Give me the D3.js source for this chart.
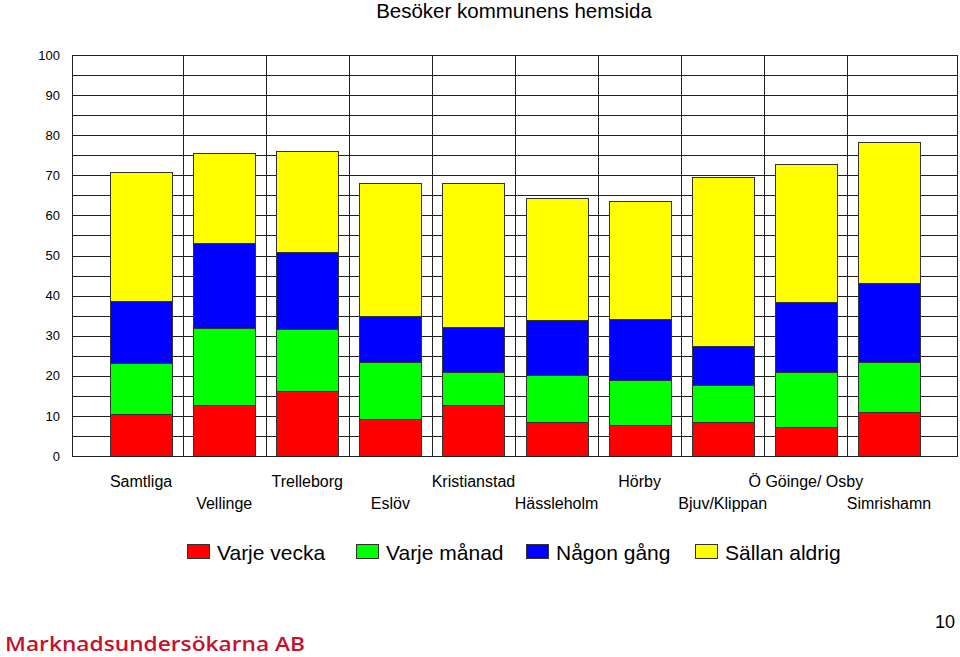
<!DOCTYPE html>
<html>
<head>
<meta charset="utf-8">
<script src="https://cdn.jsdelivr.net/npm/d3@7"></script>
<style>
  html, body { margin: 0; padding: 0; background: #fff; }
  svg { display: block; }
</style>
</head>
<body>
<svg id="chart" width="960" height="657"></svg>
<script>
// ---- data ----
const categories = ["Samtliga", "Vellinge", "Trelleborg", "Eslöv", "Kristianstad",
  "Hässleholm", "Hörby", "Bjuv/Klippan", "Ö Göinge/ Osby", "Simrishamn"];
const seriesNames = ["Varje vecka", "Varje månad", "Någon gång", "Sällan aldrig"];
const varjeVecka   = [10.5, 12.6, 16.1,  9.2, 12.7,  8.4,  7.8,  8.4,  7.3, 11.0];
const varjeManad   = [12.6, 19.4, 15.6, 14.2,  8.3, 11.7, 11.1,  9.3, 13.7, 12.5];
const nagonGang    = [15.6, 21.0, 19.1, 11.5, 11.1, 13.8, 15.3,  9.7, 17.3, 19.6];
const sallanAldrig = [32.1, 22.6, 25.2, 33.3, 36.1, 30.5, 29.4, 42.1, 34.5, 35.3];
const yTicks = [0, 10, 20, 30, 40, 50, 60, 70, 80, 90, 100];
const yGrid = d3.range(5, 100, 5);
const colors = ["#ff0000", "#00ff00", "#0000ff", "#ffff00"];
const title = "Besöker kommunens hemsida";

// ---- layout ----
const svg = d3.select("#chart");
const frame = { left: 72, right: 957, top: 55, bottom: 456 };
const font = "'Liberation Sans', Arial, sans-serif";

const y = d3.scaleLinear().domain([0, 100]).range([frame.bottom, frame.top]);
const x = d3.scaleBand().domain(categories).range([99.5, 930.5])
  .paddingInner(0.254).paddingOuter(0.127);

// title
svg.append("text").attr("x", 514).attr("y", 18)
  .attr("text-anchor", "middle").attr("font-family", font).attr("font-size", 20.5)
  .attr("fill", "#000").text(title);

// horizontal grid
svg.append("g").selectAll("line").data(yGrid).join("line")
  .attr("x1", frame.left).attr("x2", frame.right)
  .attr("y1", d => Math.round(y(d)) + 0.5).attr("y2", d => Math.round(y(d)) + 0.5)
  .attr("stroke", "#222").attr("stroke-width", 1);

// vertical category separators
const seps = categories.slice(0, -1).map(c => x(c) + x.bandwidth() + x.step() * x.paddingInner() / 2);
svg.append("g").selectAll("line").data(seps).join("line")
  .attr("x1", d => Math.round(d) + 0.5).attr("x2", d => Math.round(d) + 0.5)
  .attr("y1", frame.top).attr("y2", frame.bottom)
  .attr("stroke", "#222").attr("stroke-width", 1);

// stacked bars
const table = categories.map((c, i) => ({
  cat: c,
  [seriesNames[0]]: varjeVecka[i],
  [seriesNames[1]]: varjeManad[i],
  [seriesNames[2]]: nagonGang[i],
  [seriesNames[3]]: sallanAldrig[i]
}));
const stacked = d3.stack().keys(seriesNames)(table);
svg.append("g").selectAll("g").data(stacked).join("g")
  .attr("fill", (d, i) => colors[i])
  .selectAll("rect").data(d => d).join("rect")
  .attr("x", d => Math.round(x(d.data.cat)) + 0.5)
  .attr("width", Math.round(x.bandwidth()))
  .attr("y", d => Math.round(y(d[1])) + 0.5)
  .attr("height", d => Math.round(y(d[0])) - Math.round(y(d[1])))
  .attr("stroke", "#333").attr("stroke-width", 1);

// frame
svg.append("rect").attr("x", frame.left + 0.5).attr("y", frame.top + 0.5)
  .attr("width", frame.right - frame.left).attr("height", frame.bottom - frame.top)
  .attr("fill", "none").attr("stroke", "#222").attr("stroke-width", 1);

// y axis labels
const yAxis = d3.axisLeft(y).tickValues(yTicks).tickSize(0).tickPadding(12);
const yg = svg.append("g").attr("transform", `translate(${frame.left},0)`).call(yAxis);
yg.select(".domain").remove();
yg.selectAll("text").attr("font-family", font).attr("font-size", 13).attr("fill", "#000");

// x axis labels (staggered)
const xAxis = d3.axisBottom(x).tickSize(0).tickPadding(0);
const xg = svg.append("g").attr("transform", `translate(0,${frame.bottom})`).call(xAxis);
xg.select(".domain").remove();
xg.selectAll("text")
  .attr("font-family", font).attr("font-size", 16).attr("fill", "#000")
  .attr("dy", null)
  .attr("y", (d, i) => i % 2 === 0 ? 31 : 53);

// legend
const legendX = [187, 356, 526, 695];
const lg = svg.append("g").selectAll("g").data(seriesNames).join("g")
  .attr("transform", (d, i) => `translate(${legendX[i]},544)`);
lg.append("rect").attr("x", 0.5).attr("y", 0.5).attr("width", 22).attr("height", 14)
  .attr("fill", (d, i) => colors[i]).attr("stroke", "#333").attr("stroke-width", 1);
lg.append("text").attr("x", 30).attr("y", 15.5)
  .attr("font-family", font).attr("font-size", 21).attr("fill", "#000").text(d => d);

// footer
svg.append("text").attr("x", 5).attr("y", 651)
  .attr("font-family", "'Open Sans', Lato, sans-serif").attr("font-size", 20)
  .attr("font-weight", 600)
  .attr("textLength", 300).attr("lengthAdjust", "spacingAndGlyphs")
  .attr("fill", "#c8102e").text("Marknadsundersökarna AB");
svg.append("text").attr("x", 955).attr("y", 628).attr("text-anchor", "end")
  .attr("font-family", font).attr("font-size", 18).attr("fill", "#000").text("10");
</script>
</body>
</html>
